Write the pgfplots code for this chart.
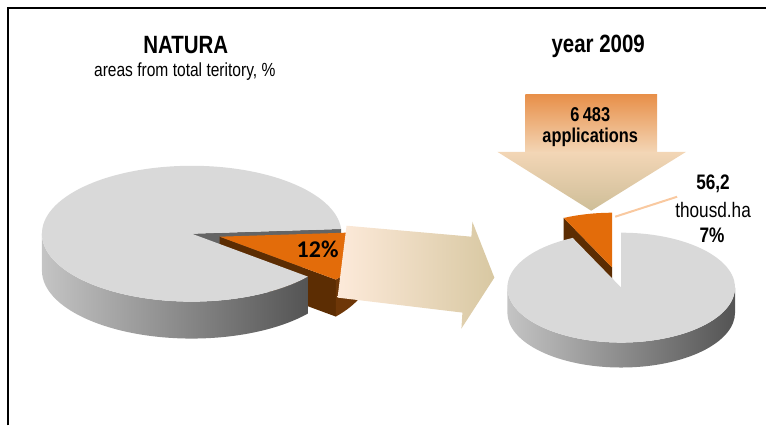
\documentclass[border=0pt]{standalone}
\usepackage{pgfplots}
\pgfplotsset{compat=1.18}
\usepackage{fontspec}
\setmainfont{Liberation Sans}[FakeStretch=0.82]
\newfontfamily\calibri{Carlito}
\definecolor{topgray}{RGB}{217,217,217}
\definecolor{cutgray}{RGB}{100,100,100}
\definecolor{sideL}{RGB}{196,196,196}
\definecolor{sideR}{RGB}{84,84,84}
\definecolor{orangeS}{RGB}{227,108,10}
\definecolor{brownA}{RGB}{92,45,3}
\definecolor{brownB}{RGB}{110,55,8}
\definecolor{arL}{RGB}{253,234,218}
\definecolor{arM}{RGB}{242,234,214}
\definecolor{arR}{RGB}{216,200,162}
\definecolor{daT}{RGB}{232,144,74}
\definecolor{daM}{RGB}{243,214,182}
\definecolor{daC}{RGB}{240,232,212}
\definecolor{daB}{RGB}{206,190,152}
\definecolor{leader}{RGB}{249,201,160}
\begin{document}
\begin{tikzpicture}
% data: shares in %
\def\valA{12}% NATURA areas from total territory
\def\valB{7}% year 2009 applications
\pgfmathsetmacro\angA{3.6*\valA}
\def\stA{4}
\pgfmathsetmacro\enA{\stA-\angA}
\pgfmathsetmacro\grA{\enA+360}
\pgfmathsetmacro\angB{3.6*\valB}
\def\stB{90}
\pgfmathsetmacro\enB{\stB+\angB}
\pgfmathsetmacro\grB{\stB+360}
\begin{axis}[hide axis, scale only axis, width=767pt, height=426pt,
  xmin=0, xmax=767, ymin=0, ymax=426, y dir=reverse, clip=false]
\path (axis cs:0,0) rectangle (axis cs:767,426);
% frame
\draw[line width=2pt] (axis cs:8,426) -- (axis cs:8,8) -- (axis cs:767,8);
% ---------- left pie ----------
\begin{scope}[shift={(axis cs:192,234)}]
\fill[cutgray] (0,0) -- (\stA:150pt and 68pt) -- ++(0,-37pt) -- (0,-37pt) -- cycle;
\end{scope}
\begin{scope}[shift={(axis cs:220,237)}]
\fill[brownA] (0,0) -- (\enA:150pt and 68pt) -- ++(0,-37pt) -- (0,-37pt) -- cycle;
\end{scope}
\begin{scope}[shift={(axis cs:192,234)}]
\shade[left color=sideL, right color=sideR] (180:150pt and 68pt)
  arc[start angle=180, end angle=\grA, x radius=150pt, y radius=68pt]
  -- ++(0,-37pt)
  arc[start angle=\grA, end angle=180, x radius=150pt, y radius=68pt] -- cycle;
\fill[topgray] (0,0) -- (\stA:150pt and 68pt)
  arc[start angle=\stA, end angle=\grA, x radius=150pt, y radius=68pt] -- cycle;
\end{scope}
\begin{scope}[shift={(axis cs:220,237)}]
\fill[brownB] (\enA:150pt and 68pt)
  arc[start angle=\enA, end angle=0, x radius=150pt, y radius=68pt]
  -- ++(0,-37pt)
  arc[start angle=0, end angle=\enA, x radius=150pt, y radius=68pt] -- cycle;
\fill[orangeS] (0,0) -- (\stA:150pt and 68pt)
  arc[start angle=\stA, end angle=\enA, x radius=150pt, y radius=68pt] -- cycle;
\end{scope}
\node[font=\calibri\bfseries\fontsize{24}{28}\selectfont] at (axis cs:318,250) {12\%};
% big arrow
\shade[left color=arL, middle color=arM, right color=arR]
  (axis cs:347,226) -- (axis cs:472,237) -- (axis cs:473,222) -- (axis cs:495,278)
  -- (axis cs:462,329) -- (axis cs:463,313) -- (axis cs:338,298) -- cycle;
% ---------- right pie ----------
\begin{scope}[shift={(axis cs:613,268)}]
\fill[brownA] (0,0) -- (\enB:114pt and 55pt) -- ++(0,-25pt) -- (0,-25pt) -- cycle;
\fill[orangeS] (0,0) -- (\stB:114pt and 55pt)
  arc[start angle=\stB, end angle=\enB, x radius=114pt, y radius=55pt] -- cycle;
\end{scope}
\begin{scope}[shift={(axis cs:622,288)}]
\shade[left color=sideL, right color=sideR] (180:114pt and 55pt)
  arc[start angle=180, end angle=360, x radius=114pt, y radius=55pt]
  -- ++(0,-25pt)
  arc[start angle=360, end angle=180, x radius=114pt, y radius=55pt] -- cycle;
\fill[topgray] (0,0) -- (\enB:114pt and 55pt)
  arc[start angle=\enB, end angle=\grB, x radius=114pt, y radius=55pt] -- cycle;
\end{scope}
% down arrow
\shade[top color=daT, bottom color=daM]
  (axis cs:526,95) rectangle (axis cs:658,153);
\shade[top color=daM, middle color=daC, bottom color=daB]
  (axis cs:498,152) -- (axis cs:687,152) -- (axis cs:592,211) -- cycle;
\node[font=\bfseries\fontsize{20}{24}\selectfont, align=center] at (axis cs:591,127)
  {6\,483\\[-3pt]applications};
% leader line and label
\draw[leader, line width=2pt] (axis cs:616,217) -- (axis cs:678,197);
\node[font=\bfseries\fontsize{21}{25}\selectfont] at (axis cs:714,184) {56,2};
\node[font=\fontsize{21}{25}\selectfont] at (axis cs:714,210) {thousd.ha};
\node[font=\bfseries\fontsize{21}{25}\selectfont] at (axis cs:713,236) {7\%};
% titles
\node[font=\bfseries\fontsize{25}{30}\selectfont] at (axis cs:186,45) {NATURA};
\node[font=\fontsize{19}{23}\selectfont] at (axis cs:185,72) {areas from total teritory, \%};
\node[font=\bfseries\fontsize{25}{30}\selectfont] at (axis cs:599,46) {year 2009};
\end{axis}
\end{tikzpicture}
\end{document}
